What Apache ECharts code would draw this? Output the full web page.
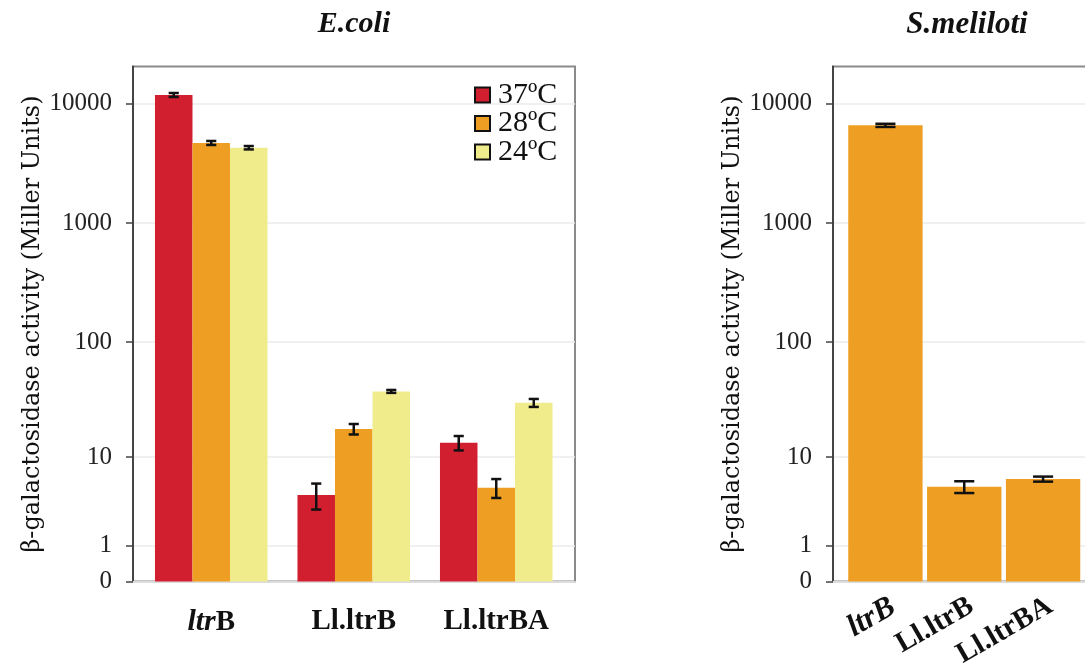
<!DOCTYPE html>
<html><head><meta charset="utf-8">
<script src="https://cdn.jsdelivr.net/npm/echarts@6/dist/echarts.min.js"></script>
<style>html,body{margin:0;padding:0;background:#fff}#c{width:1085px;height:663px}</style>
</head><body><div id="c"></div>
<script>
// ---- data ----
const categories = ['ltrB', 'Ll.ltrB', 'Ll.ltrBA'];
const tempNames = ['37ºC', '28ºC', '24ºC'];
const ecoli37 = [11800, 4.3, 13.5];
const ecoli37Err = [450, 1.3, 2.0];
const ecoli28 = [4680, 17.9, 5.1];
const ecoli28Err = [180, 1.9, 1.1];
const ecoli24 = [4270, 38, 30.3];
const ecoli24Err = [140, 1.1, 2.4];
const smeliloti = [6570, 5.2, 6.2];
const smelilotiErr = [200, 0.7, 0.35];
const yTickValues = [0, 1, 10, 100, 1000, 10000];

// pseudo-log scale: log10(x+1)
const T = v => Math.log10(v + 1);
const Tinv = t => Math.pow(10, t) - 1;
const YMAX = 4.31;
const tickPos = yTickValues.map(T);

const SERIF = "'Liberation Serif', serif";
const colors = ['#D21F30', '#EE9E22', '#F0EC8C'];

function errRender(groupIdx, nGroups, gapFrac, capFrac) {
  return function (params, api) {
    const cat = api.value(0), mean = api.value(1), err = api.value(2);
    const band = api.size([1, 0])[0];
    const bw = band * (1 - gapFrac) / nGroups;
    const off = (groupIdx - (nGroups - 1) / 2) * bw;
    const top = api.coord([cat, T(mean + err)]);
    const bot = api.coord([cat, T(Math.max(mean - err, 0))]);
    const x = top[0] + off;
    const cap = bw * capFrac / 2;
    const st = { stroke: '#111', lineWidth: 2.5 };
    return { type: 'group', children: [
      { type: 'line', shape: { x1: x, y1: top[1], x2: x, y2: bot[1] }, style: st },
      { type: 'line', shape: { x1: x - cap, y1: top[1], x2: x + cap, y2: top[1] }, style: st },
      { type: 'line', shape: { x1: x - cap, y1: bot[1], x2: x + cap, y2: bot[1] }, style: st }
    ]};
  };
}

function frameY(gridIndex) {
  return {
    gridIndex, type: 'value', min: 0, max: YMAX,
    name: 'β-galactosidase activity (Miller Units)',
    nameLocation: 'middle', nameGap: 88,
    nameTextStyle: { fontFamily: "'DejaVu Serif', serif", fontSize: 24, color: '#111' },
    axisLine: { show: true, lineStyle: { color: '#444', width: 2 } },
    axisTick: { show: true, length: 7, customValues: tickPos, lineStyle: { color: '#444', width: 1.5 } },
    axisLabel: { customValues: tickPos, margin: 21, fontFamily: SERIF, fontSize: 25, color: '#222',
      formatter: v => String(Math.round(Tinv(v))) },
    splitLine: { show: true, lineStyle: { color: '#ebebeb', width: 1.5 } }
  };
}
function hiddenY(gridIndex) {
  return { gridIndex, type: 'value', min: 0, max: YMAX, show: false };
}
function frameX(gridIndex) {
  return { gridIndex, type: 'value', min: 0, max: 1,
    axisLine: { show: true, lineStyle: { color: '#dcdcdc', width: 2 } },
    axisTick: { show: false }, axisLabel: { show: false }, splitLine: { show: false } };
}
const rich = {
  i: { fontFamily: SERIF, fontStyle: 'italic', fontWeight: 'bold', fontSize: 30, color: '#111' },
  b: { fontFamily: SERIF, fontWeight: 'bold', fontSize: 29, color: '#111' },
  ri: { fontFamily: SERIF, fontStyle: 'italic', fontWeight: 'bold', fontSize: 31, color: '#111' },
  rb: { fontFamily: SERIF, fontWeight: 'bold', fontSize: 29, color: '#111' }
};

const chart = echarts.init(document.getElementById('c'), null, { renderer: 'canvas' });
const ecoliSets = [[ecoli37, ecoli37Err], [ecoli28, ecoli28Err], [ecoli24, ecoli24Err]];
const series = [];
ecoliSets.forEach((s, k) => {
  series.push({
    name: tempNames[k], type: 'bar', xAxisIndex: 1, yAxisIndex: 1,
    data: s[0].map(T), barGap: '0%', barCategoryGap: '21%',
    itemStyle: { color: colors[k] }
  });
});
ecoliSets.forEach((s, k) => {
  series.push({
    type: 'custom', xAxisIndex: 1, yAxisIndex: 1, z: 5,
    renderItem: errRender(k, 3, 0.21, 0.27),
    data: s[0].map((v, i) => [i, v, s[1][i]])
  });
});
series.push({
  name: 'S.meliloti', type: 'bar', xAxisIndex: 3, yAxisIndex: 3,
  data: smeliloti.map(T), barCategoryGap: '5.7%', itemStyle: { color: colors[1] }
});
series.push({
  type: 'custom', xAxisIndex: 3, yAxisIndex: 3, z: 5,
  renderItem: errRender(0, 1, 0.057, 0.27),
  data: smeliloti.map((v, i) => [i, v, smelilotiErr[i]])
});

const G = { containLabel: false, outerBoundsMode: 'none' };
chart.setOption({
  animation: false,
  backgroundColor: '#fff',
  title: [
    { text: 'E.coli', left: 349, top: 4, textAlign: 'center',
      textStyle: { fontFamily: SERIF, fontStyle: 'italic', fontWeight: 'bold', fontSize: 30, color: '#111' } },
    { text: 'S.meliloti', left: 962, top: 4, textAlign: 'center',
      textStyle: { fontFamily: SERIF, fontStyle: 'italic', fontWeight: 'bold', fontSize: 31, color: '#111' } }
  ],
  legend: {
    data: tempNames, orient: 'vertical', left: 469, top: 75,
    icon: 'rect', itemWidth: 15, itemHeight: 15, itemGap: -1.5,
    itemStyle: { borderColor: '#111', borderWidth: 2 },
    textStyle: { fontFamily: SERIF, fontSize: 30, color: '#111', padding: [0, 0, 0, 3] }
  },
  grid: [
    Object.assign({ left: 133, top: 66.5, width: 442, height: 515, show: true, borderColor: '#8a8a8a', borderWidth: 2 }, G),
    Object.assign({ left: 140, top: 66.5, width: 427.5, height: 515 }, G),
    Object.assign({ left: 833, top: 66.5, width: 320, height: 515, show: true, borderColor: '#8a8a8a', borderWidth: 2 }, G),
    Object.assign({ left: 846, top: 66.5, width: 236.5, height: 515 }, G)
  ],
  xAxis: [
    frameX(0),
    { gridIndex: 1, type: 'category', data: categories,
      axisLine: { show: false }, axisTick: { show: false },
      axisLabel: { margin: 26, rich,
        formatter: v => v === 'ltrB' ? '{i|ltr}{b|B}' : '{b|' + v + '}' } },
    frameX(2),
    { gridIndex: 3, type: 'category', data: categories,
      axisLine: { show: false }, axisTick: { show: false },
      axisLabel: { margin: 10, rotate: 30, verticalAlign: 'top', rich,
        formatter: v => v === 'ltrB' ? '{ri|ltrB}' : '{rb|' + v + '}' } }
  ],
  yAxis: [frameY(0), hiddenY(1), frameY(2), hiddenY(3)],
  series
});
</script>
</body></html>
